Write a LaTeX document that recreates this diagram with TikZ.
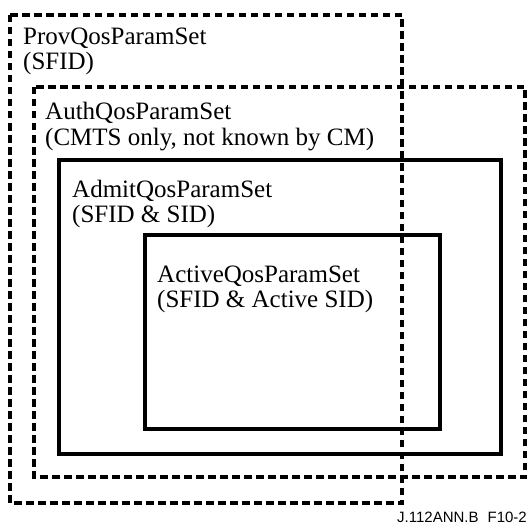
\documentclass[tikz,border=0pt]{standalone}
\usepackage{fontspec}
\setmainfont{Liberation Serif}
\newfontfamily\labelsans{Liberation Sans}
\tikzset{
  dashbox/.style={draw=black, line width=3.2pt, dash pattern=on 7.5pt off 4.5pt},
  solidbox/.style={draw=black, line width=3.2pt},
  boxlabel/.style={anchor=base west, inner sep=0pt, align=left,
    font=\fontsize{25pt}{25pt}\selectfont},
  figid/.style={anchor=base east, inner sep=0pt, font=\labelsans\fontsize{15pt}{16pt}\selectfont}
}
\begin{document}
\begin{tikzpicture}[x=1pt, y=-1pt]
\useasboundingbox (0,0) rectangle (527,524);
% boxes
\draw[dashbox] (10,15) rectangle (402,503);
\draw[dashbox] (34,87) rectangle (525,477);
\draw[solidbox] (59,160) rectangle (501,454);
\draw[solidbox] (145,235) rectangle (440,429);
% labels (base anchor = baseline of the last line)
\node[boxlabel] (prov) at (23,70) {ProvQosParamSet\\(SFID)};
\node[boxlabel] (auth) at (45,145) {AuthQosParamSet\\(CMTS only, not known by CM)};
\node[boxlabel] (admit) at (72,222) {AdmitQosParamSet\\(SFID \& SID)};
\node[boxlabel] (active) at (157,307) {ActiveQosParamSet\\(SFID \& Active SID)};
\node[figid] (fid) at (527,522) {J.112ANN.B\hspace{0.6em}F10-2};
\end{tikzpicture}
\end{document}
